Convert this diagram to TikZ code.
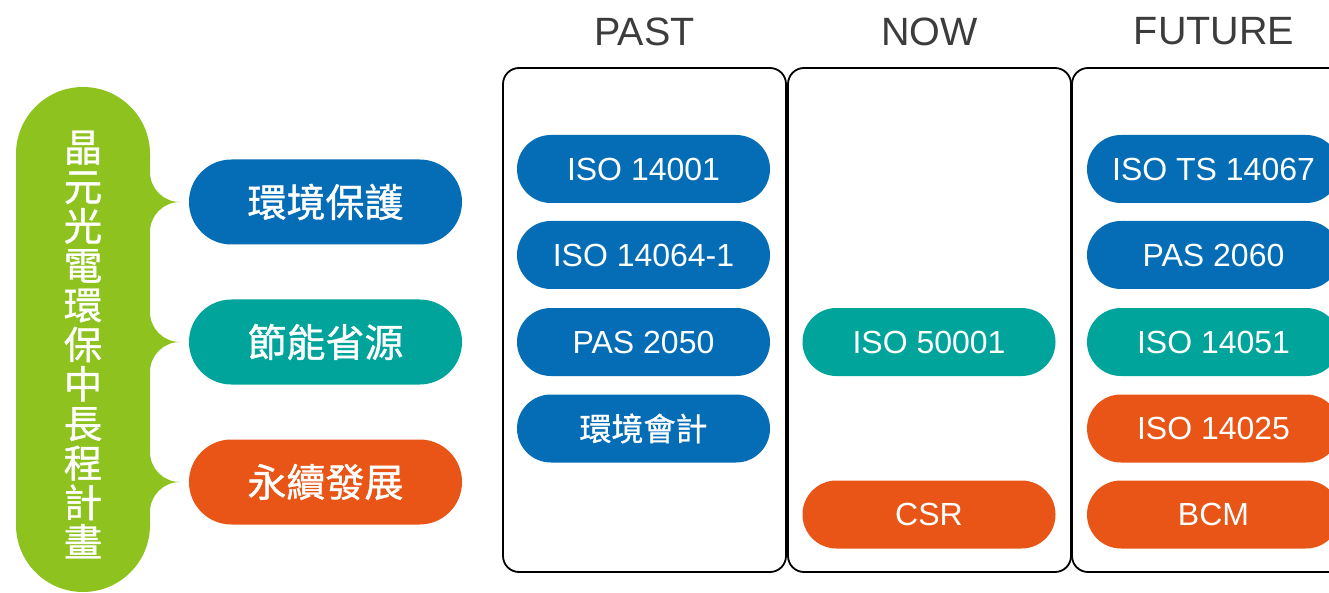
\documentclass[tikz,border=0pt]{standalone}
\usepackage{fontspec}
\setmainfont{Liberation Sans}
\newfontfamily\cjk[FakeBold=1.0]{Noto Sans CJK TC}
\definecolor{cblue}{RGB}{5,108,182}
\definecolor{cteal}{RGB}{0,164,154}
\definecolor{corange}{RGB}{232,85,22}
\definecolor{cgreen}{RGB}{141,194,31}
\definecolor{cgray}{RGB}{60,60,60}
\tikzset{
  pill/.style={rectangle, rounded corners=33.9pt, minimum width=253pt, minimum height=68pt,
    inner sep=0pt, text=white, font=\fontsize{32}{36}\selectfont},
  bigpill/.style={rectangle, rounded corners=42.4pt, minimum width=273pt, minimum height=85pt,
    inner sep=0pt, text=white, font=\cjk\fontsize{39}{44}\selectfont},
  colbox/.style={draw=black, line width=1.8pt, rounded corners=16pt},
  header/.style={text=cgray, font=\fontsize{39.5}{44}\selectfont, inner sep=0pt},
}
\begin{document}
\begin{tikzpicture}[x=1pt,y=-1pt]
\useasboundingbox (0,0) rectangle (1329,593);
\clip (0,0) rectangle (1329,593);
% green brace shape
\fill[cgreen] (16,154) .. controls (16,117) and (46,87) .. (83,87)
  .. controls (120,87) and (150,117) .. (150,154)
  -- (150,172) .. controls (150,188.6) and (163.4,202) .. (180,202)
  .. controls (163.4,202) and (150,215.4) .. (150,232)
  -- (150,312) .. controls (150,328.6) and (163.4,342) .. (180,342)
  .. controls (163.4,342) and (150,355.4) .. (150,372)
  -- (150,452) .. controls (150,468.6) and (163.4,482) .. (180,482)
  .. controls (163.4,482) and (150,495.4) .. (150,512)
  -- (150,525) .. controls (150,562) and (120,592) .. (83,592)
  .. controls (46,592) and (16,562) .. (16,525) -- cycle;
\node[text=white, align=center, inner sep=0pt, font=\cjk\fontsize{38.5}{39.5}\selectfont] (title) at (83,344.5)
  {晶\\元\\光\\電\\環\\保\\中\\長\\程\\計\\畫};
% left pills
\node[bigpill, fill=cblue] (envp) at (325.5,202) {環境保護};
\node[bigpill, fill=cteal] (ensv) at (325.5,342) {節能省源};
\node[bigpill, fill=corange] (sust) at (325.5,482) {永續發展};
% column boxes
\draw[colbox] (503,68) rectangle (786,572);
\draw[colbox] (788,68) rectangle (1071,572);
\draw[colbox] (1072,68) rectangle (1356,572);
\node[header] (hpast) at (644.5,31.5) {PAST};
\node[header] (hnow) at (929.5,31.5) {NOW};
\node[header] (hfut) at (1214,31.5) {FUTURE};
% PAST
\node[pill, fill=cblue] (p1) at (643.5,169) {ISO 14001};
\node[pill, fill=cblue] (p2) at (643.5,255) {ISO 14064-1};
\node[pill, fill=cblue] (p3) at (643.5,342) {PAS 2050};
\node[pill, fill=cblue, font=\cjk\fontsize{32}{36}\selectfont] (p4) at (643.5,428.5) {環境會計};
% NOW
\node[pill, fill=cteal] (n1) at (929,342) {ISO 50001};
\node[pill, fill=corange] (n2) at (929,514.5) {CSR};
% FUTURE
\node[pill, fill=cblue] (f1) at (1213.5,169) {ISO TS 14067};
\node[pill, fill=cblue] (f2) at (1213.5,255) {PAS 2060};
\node[pill, fill=cteal] (f3) at (1213.5,342) {ISO 14051};
\node[pill, fill=corange] (f4) at (1213.5,428.5) {ISO 14025};
\node[pill, fill=corange] (f5) at (1213.5,514.5) {BCM};
\end{tikzpicture}
\end{document}
